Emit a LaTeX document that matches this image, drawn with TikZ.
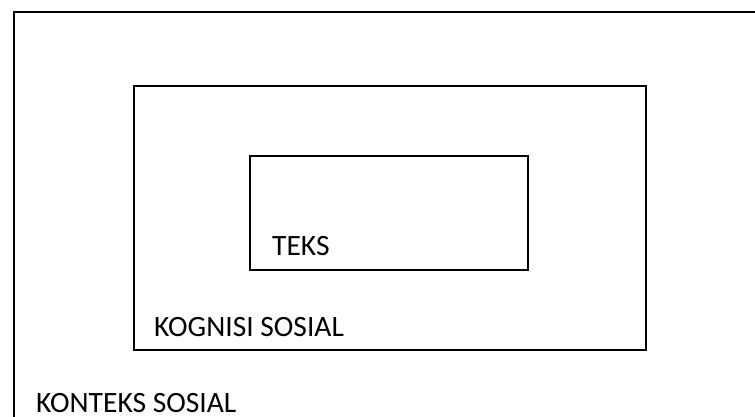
\documentclass[tikz,border=0pt]{standalone}
\usepackage{fontspec}
\setmainfont{Carlito}
\tikzset{
  box/.style={draw=black, line width=2.2pt, inner sep=0pt, rectangle},
  lbl/.style={anchor=base west, inner sep=0pt, font=\fontsize{29.5}{32}\selectfont},
}
\begin{document}
\begin{tikzpicture}[x=1pt,y=-1pt]
\useasboundingbox (0,0) rectangle (755,417);
% outer frame (only top and left edges visible)
\coordinate (otl) at (14.3,11.7);
\coordinate (otr) at (760,11.7);
\coordinate (obl) at (14.3,425);
\draw[line width=2.2pt] (otr) -- (otl) -- (obl);
% middle box
\node[box, minimum width=512.6pt, minimum height=263.4pt] (kog) at (390,218) {};
% inner box
\node[box, minimum width=278pt, minimum height=113.4pt] (teks) at (388.7,213) {};
% labels
\node[lbl] (tteks) at (272,255) {TEKS};
\node[lbl] (tkog) at (154,336) {KOGNISI SOSIAL};
\node[lbl] (tkon) at (36,412.5) {KONTEKS SOSIAL};
\end{tikzpicture}
\end{document}
